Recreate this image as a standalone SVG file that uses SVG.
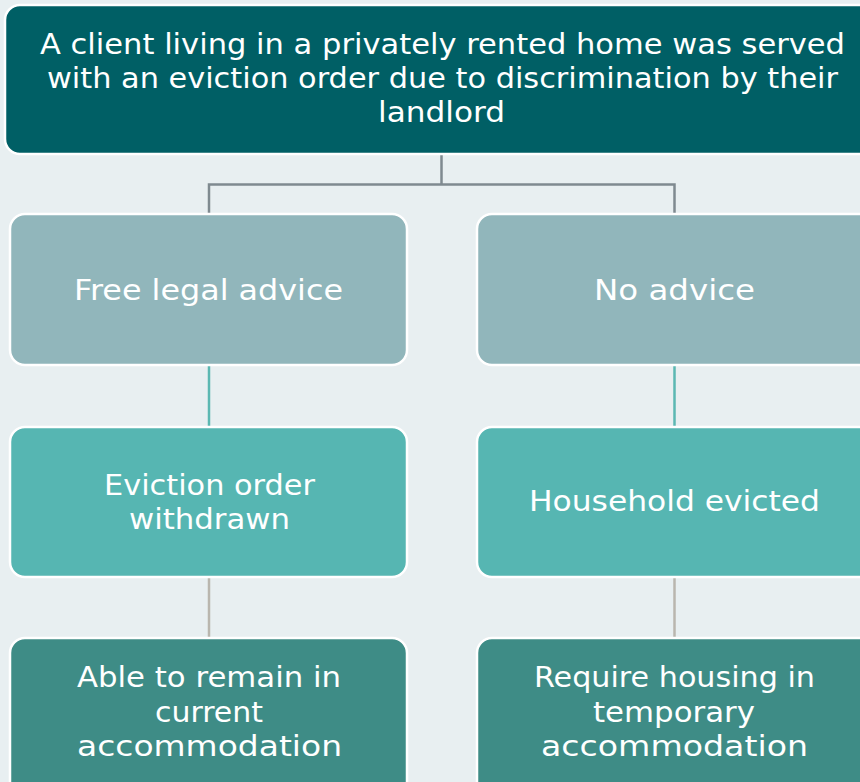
<svg xmlns="http://www.w3.org/2000/svg" width="860" height="782" viewBox="0 0 860 782">
<style>
.box{stroke:#ffffff;stroke-width:2.5}
.top{fill:#005F65}
.r1{fill:#91B6BB}
.r2{fill:#56B6B2}
.r3{fill:#3E8C86}
text{font-family:"DejaVu Sans","Liberation Sans",sans-serif;font-size:28px;fill:#ffffff;text-anchor:middle}
</style>
<rect width="860" height="782" fill="#E8EFF1"/>
<g id="connectors" fill="none">
<path d="M441.5 154V184.5H209V213M441.5 184.5H674.5V213" stroke="#7F8A90" stroke-width="2.5"/>
<path d="M209 366V426M674.5 366V426" stroke="#5BB8B2" stroke-width="2.5"/>
<path d="M209 577V637M674.5 577V637" stroke="#B9B6AE" stroke-width="2.5"/>
</g>
<g id="n0">
<rect class="box top" x="5" y="5" width="880" height="149" rx="15"/>
<text x="442.5" y="54" textLength="805" lengthAdjust="spacingAndGlyphs">A client living in a privately rented home was served</text>
<text x="442.5" y="88" textLength="791" lengthAdjust="spacingAndGlyphs">with an eviction order due to discrimination by their</text>
<text x="441.5" y="122" textLength="127" lengthAdjust="spacingAndGlyphs">landlord</text>
</g>
<g id="n1">
<rect class="box r1" x="10" y="214" width="397" height="151" rx="15"/>
<text x="208.5" y="300" textLength="269" lengthAdjust="spacingAndGlyphs">Free legal advice</text>
</g>
<g id="n2">
<rect class="box r1" x="477" y="214" width="397" height="151" rx="15"/>
<text x="674.5" y="300" textLength="161" lengthAdjust="spacingAndGlyphs">No advice</text>
</g>
<g id="n3">
<rect class="box r2" x="10" y="427" width="397" height="150" rx="15"/>
<text x="209.5" y="495" textLength="211" lengthAdjust="spacingAndGlyphs">Eviction order</text>
<text x="209.5" y="529" textLength="161" lengthAdjust="spacingAndGlyphs">withdrawn</text>
</g>
<g id="n4">
<rect class="box r2" x="477" y="427" width="397" height="150" rx="15"/>
<text x="674.5" y="511" textLength="291" lengthAdjust="spacingAndGlyphs">Household evicted</text>
</g>
<g id="n5">
<rect class="box r3" x="10" y="638" width="397" height="160" rx="15"/>
<text x="209" y="687" textLength="264" lengthAdjust="spacingAndGlyphs">Able to remain in</text>
<text x="209" y="722" textLength="108" lengthAdjust="spacingAndGlyphs">current</text>
<text x="209.5" y="756" textLength="265" lengthAdjust="spacingAndGlyphs">accommodation</text>
</g>
<g id="n6">
<rect class="box r3" x="477" y="638" width="397" height="160" rx="15"/>
<text x="674.5" y="687" textLength="281" lengthAdjust="spacingAndGlyphs">Require housing in</text>
<text x="674" y="722" textLength="162" lengthAdjust="spacingAndGlyphs">temporary</text>
<text x="674.5" y="756" textLength="267" lengthAdjust="spacingAndGlyphs">accommodation</text>
</g>
</svg>
